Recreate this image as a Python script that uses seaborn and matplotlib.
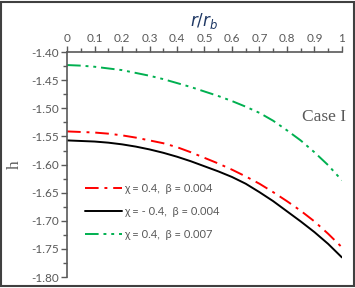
import numpy as np
import pandas as pd
import matplotlib
matplotlib.use("Agg")
import matplotlib.pyplot as plt
import seaborn as sns
from matplotlib.ticker import MultipleLocator, FormatStrFormatter

# data
r = [0.0, 0.05, 0.1, 0.15, 0.2, 0.25, 0.3, 0.35, 0.4, 0.45, 0.5,
     0.55, 0.6, 0.65, 0.7, 0.75, 0.8, 0.85, 0.9, 0.95, 1.0]
h_red = [-1.541, -1.542, -1.543, -1.545, -1.548, -1.552, -1.557, -1.562, -1.569, -1.578, -1.588,
         -1.598, -1.609, -1.621, -1.634, -1.649, -1.665, -1.682, -1.701, -1.723, -1.747]
h_black = [-1.557, -1.558, -1.559, -1.561, -1.564, -1.568, -1.573, -1.579, -1.586, -1.594, -1.603,
           -1.612, -1.622, -1.634, -1.649, -1.665, -1.683, -1.701, -1.720, -1.741, -1.765]
h_green = [-1.423, -1.424, -1.426, -1.429, -1.432, -1.437, -1.442, -1.448, -1.455, -1.462, -1.470,
           -1.478, -1.487, -1.497, -1.508, -1.522, -1.539, -1.557, -1.578, -1.601, -1.628]
labels = ["χ = 0.4,  β = 0.004", "χ = - 0.4,  β = 0.004", "χ = 0.4,  β = 0.007"]
xtick_labels = ["0", "0.1", "0.2", "0.3", "0.4", "0.5", "0.6", "0.7", "0.8", "0.9", "1"]

sns.set_style("white")
plt.rcParams['font.family'] = ['Lato', 'DejaVu Sans']
gray = "#595959"

fig = plt.figure(figsize=(3.55, 2.88), dpi=100)
ax = fig.add_axes([0.189, 0.038, 0.774, 0.781])

sns.lineplot(x=r, y=h_red, ax=ax, color="#FF0000", lw=1.4,
             linestyle=(0, (7, 3, 1.5, 3)), label=labels[0])
sns.lineplot(x=r, y=h_black, ax=ax, color="black", lw=1.4,
             linestyle="-", label=labels[1])
sns.lineplot(x=r, y=h_green, ax=ax, color="#00B050", lw=1.4,
             linestyle=(0, (7, 2.5, 1.5, 2.5, 1.5, 2.5)), label=labels[2])

ax.set_xlim(0, 1)
ax.set_ylim(-1.80, -1.40)
ax.xaxis.set_ticks_position("top")
ax.xaxis.set_label_position("top")
ax.xaxis.set_minor_locator(MultipleLocator(0.05))
ax.yaxis.set_major_locator(MultipleLocator(0.05))
ax.yaxis.set_minor_locator(MultipleLocator(0.025))
ax.yaxis.set_major_formatter(FormatStrFormatter("%.2f"))
ax.set_xticks(np.arange(0, 1.01, 0.1))
ax.set_xticklabels(xtick_labels)

ax.tick_params(axis="both", which="major", direction="out", length=4, width=1,
               color=gray, labelcolor=gray, labelsize=8.5, pad=2)
ax.tick_params(axis="both", which="minor", direction="out", length=3, width=1, color=gray)
ax.tick_params(axis="x", which="both", top=True, bottom=False)
ax.tick_params(axis="y", which="both", left=True, right=False)

for s in ["right", "bottom"]:
    ax.spines[s].set_visible(False)
for s in ["left", "top"]:
    ax.spines[s].set_color(gray)
    ax.spines[s].set_linewidth(1.2)

ax.set_xlabel(r"$r/r_b$", fontsize=12, color="#1F3864", labelpad=5,
              fontfamily="serif")
ax.set_ylabel("h", fontsize=12.5, color=gray, fontfamily="Liberation Serif", labelpad=6)
ax.text(1.015, 0.71, "Case I", transform=ax.transAxes, ha="right", va="center",
        fontsize=12.5, color=gray, fontfamily="Liberation Serif")

leg = ax.legend(loc="lower left", bbox_to_anchor=(0.03, 0.12), frameon=False,
                fontsize=8, labelcolor=gray, handlelength=3.3, handletextpad=0.2,
                labelspacing=1.1)

fig.patches.append(plt.Rectangle((0.004, 0.006), 0.992, 0.988, transform=fig.transFigure,
                                 fill=False, edgecolor="#404040", lw=1.5))

fig.savefig("out.png", dpi=100, facecolor="white")
